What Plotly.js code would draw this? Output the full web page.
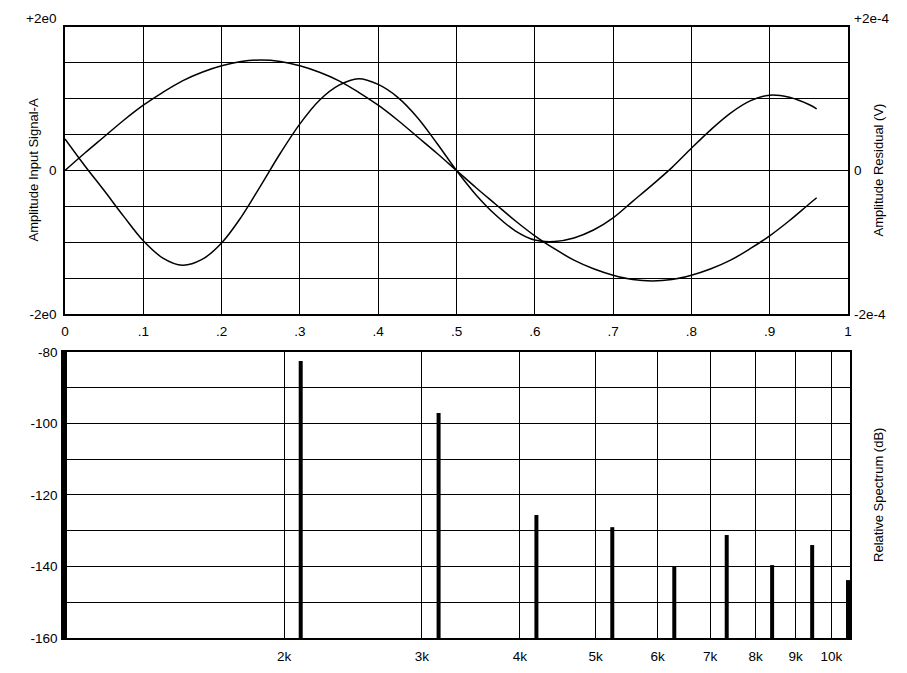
<!DOCTYPE html>
<html>
<head>
<meta charset="utf-8">
<script src="https://cdn.plot.ly/plotly-3.0.1.min.js"></script>
<style>html,body{margin:0;padding:0;background:#fff;}</style>
</head>
<body>
<div id="chart" style="width:907px;height:673px;"></div>
<script>
// ---- Top panel: time-domain signals ----
const timeX = [0,0.025,0.05,0.075,0.1,0.125,0.15,0.175,0.2,0.225,0.25,0.275,0.3,0.325,0.35,0.375,0.4,0.425,0.45,0.475,0.5,0.525,0.55,0.575,0.6,0.625,0.65,0.675,0.7,0.725,0.75,0.775,0.8,0.825,0.85,0.875,0.9,0.925,0.95,0.96];
const signalA = [0,0.24,0.47,0.70,0.91,1.09,1.25,1.37,1.46,1.52,1.54,1.52,1.46,1.37,1.25,1.09,0.91,0.70,0.47,0.24,0,-0.24,-0.47,-0.70,-0.91,-1.09,-1.25,-1.37,-1.46,-1.52,-1.54,-1.52,-1.46,-1.37,-1.25,-1.09,-0.91,-0.70,-0.47,-0.38];
// residual in units of 1e-4 V
const residual = [0.44,0.07,-0.28,-0.64,-0.98,-1.22,-1.32,-1.24,-1.01,-0.65,-0.21,0.24,0.65,0.98,1.19,1.28,1.20,1.02,0.74,0.38,0,-0.34,-0.62,-0.84,-0.97,-0.99,-0.94,-0.83,-0.66,-0.43,-0.20,0.04,0.31,0.57,0.80,0.97,1.05,1.02,0.92,0.86];
const residualScale = 1e-4;

const timeTickVals = [0,0.1,0.2,0.3,0.4,0.5,0.6,0.7,0.8,0.9,1];
const timeTickText = ["0",".1",".2",".3",".4",".5",".6",".7",".8",".9","1"];
const ampGridVals = [-2,-1.5,-1,-0.5,0,0.5,1,1.5,2];
const ampGridText = ["-2e0","","","","0","","","","+2e0"];
const resTickVals = [-2e-4,0,2e-4];
const resTickText = ["-2e-4","0","+2e-4"];

// ---- Bottom panel: spectrum ----
const harmonicFreq = [1050,2100,3150,4200,5250,6300,7350,8400,9450,10500];
const harmonicDb = [-80,-82.5,-97.1,-125.6,-129,-140,-131.2,-139.6,-134,-143.8];
const freqTickVals = [2000,3000,4000,5000,6000,7000,8000,9000,10000];
const freqTickText = ["2k","3k","4k","5k","6k","7k","8k","9k","10k"];
const dbGridVals = [-160,-150,-140,-130,-120,-110,-100,-90,-80];
const dbGridText = ["-160","","-140","","-120","","-100","","-80"];
const dbFloor = -160;

// build stick lines
const stickX = [], stickY = [];
harmonicFreq.forEach((f,i)=>{ stickX.push(f,f,null); stickY.push(dbFloor,harmonicDb[i],null); });

const tickFont = {family:"Liberation Sans, Arial, Helvetica, sans-serif", size:13.5, color:"#000"};
const titleFont = {family:"Liberation Sans, Arial, Helvetica, sans-serif", size:13, color:"#000"};

const traces = [
  {x: timeX, y: signalA, type:"scatter", mode:"lines", line:{color:"#000", width:1.5, shape:"spline", smoothing:1}, xaxis:"x", yaxis:"y", hoverinfo:"skip"},
  {x: timeX, y: residual.map(v=>v*residualScale), type:"scatter", mode:"lines", line:{color:"#000", width:1.5, shape:"spline", smoothing:1}, xaxis:"x", yaxis:"y2", hoverinfo:"skip"},
  {x: stickX, y: stickY, type:"scatter", mode:"lines", line:{color:"#000", width:4}, xaxis:"x2", yaxis:"y3", hoverinfo:"skip"}
];

const axLine = {showline:true, mirror:true, linecolor:"#000", linewidth:1.8, gridcolor:"#000", gridwidth:1, zeroline:false, ticks:"", tickfont:tickFont};

// small pad (in px) so the edge sticks are fully visible
const padPx = 2, plotPx = 787, decadePx = 783;
const padDec = padPx/decadePx;

const layout = {
  width:907, height:673,
  margin:{l:63, r:57, t:27, b:35},
  paper_bgcolor:"#fff", plot_bgcolor:"#fff",
  showlegend:false,
  font: tickFont,
  xaxis: Object.assign({}, axLine, {domain:[padPx/plotPx, 1-padPx/plotPx], range:[0,1], tickmode:"array", tickvals:timeTickVals, ticktext:timeTickText, anchor:"y", showgrid:true, ticklabelstandoff:4}),
  yaxis: Object.assign({}, axLine, {domain:[0.5303,1], range:[-2,2], tickmode:"array", tickvals:ampGridVals, ticktext:ampGridText.map(t=>t==="+2e0"?"+2e0<br> ":t), showgrid:true, ticklabelstandoff:4}),
  yaxis2: {overlaying:"y", side:"right", range:[-2e-4,2e-4], tickmode:"array", tickvals:resTickVals, ticktext:resTickText.map(t=>t==="+2e-4"?"+2e-4<br> ":t), showgrid:false, zeroline:false, showline:false, ticks:"", tickfont:tickFont, ticklabelstandoff:5},
  xaxis2: Object.assign({}, axLine, {domain:[0,1], type:"log", range:[Math.log10(1050)-padDec, Math.log10(10500)+padDec], tickmode:"array", tickvals:freqTickVals, ticktext:freqTickText, anchor:"y3", showgrid:true, ticklabelstandoff:5}),
  yaxis3: Object.assign({}, axLine, {domain:[0,0.4681], range:[-160,-80], tickmode:"array", tickvals:dbGridVals, ticktext:dbGridText, anchor:"x2", showgrid:true, ticklabelstandoff:1}),
  annotations: [
    {text:"Amplitude Input Signal-A", xref:"paper", yref:"y domain", x:-0.0381, y:0.5, textangle:-90, showarrow:false, font:titleFont, xanchor:"center", yanchor:"middle"},
    {text:"Amplitude Residual (V)", xref:"paper", yref:"y domain", x:1.0356, y:0.5, textangle:-90, showarrow:false, font:titleFont, xanchor:"center", yanchor:"middle"},
    {text:"Relative Spectrum (dB)", xref:"paper", yref:"y3 domain", x:1.0368, y:0.5, textangle:-90, showarrow:false, font:titleFont, xanchor:"center", yanchor:"middle"}
  ]
};

Plotly.newPlot("chart", traces, layout, {displayModeBar:false, staticPlot:true});
</script>
</body>
</html>
